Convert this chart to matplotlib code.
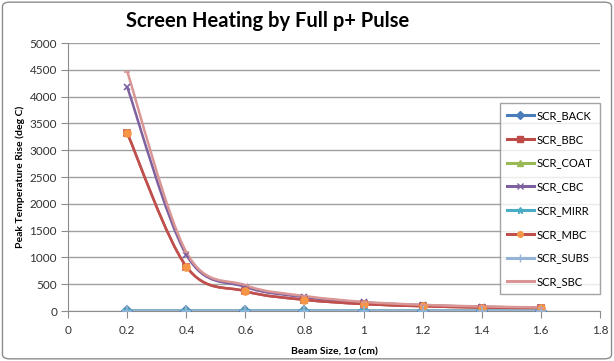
import numpy as np
import matplotlib
matplotlib.use("Agg")
import matplotlib.pyplot as plt
from matplotlib.path import Path
from matplotlib.patches import PathPatch, FancyBboxPatch
from matplotlib.lines import Line2D

beam_size = [0.2, 0.4, 0.6, 0.8, 1.0, 1.2, 1.4, 1.6]
scr_back = [5, 5, 5, 5, 5, 5, 5, 5]
scr_bbc = [3320, 830, 370, 210, 130, 90, 65, 50]
scr_coat = [5, 5, 5, 5, 5, 5, 5, 5]
scr_cbc = [4180, 1050, 450, 260, 160, 110, 80, 60]
scr_mirr = [5, 5, 5, 5, 5, 5, 5, 5]
scr_mbc = [3320, 830, 370, 210, 130, 90, 65, 50]
scr_subs = [5, 5, 5, 5, 5, 5, 5, 5]
scr_sbc = [4470, 1100, 480, 280, 170, 115, 85, 65]

names = ["SCR_BACK", "SCR_BBC", "SCR_COAT", "SCR_CBC", "SCR_MIRR", "SCR_MBC", "SCR_SUBS", "SCR_SBC"]
series = [scr_back, scr_bbc, scr_coat, scr_cbc, scr_mirr, scr_mbc, scr_subs, scr_sbc]
line_colors = ["#4A7EBB", "#BE4B48", "#98B954", "#7D60A0", "#4BACC6", "#C0504D", "#95B3D7", "#D99694"]
marker_colors = ["#4A7EBB", "#BE4B48", "#98B954", "#7D60A0", "#4BACC6", "#F79646", "#95B3D7", "#D99694"]
markers = ["D", "s", "^", "x", "*", "o", "+", "_"]
msizes = [5, 5, 6, 5, 6, 5, 7, 5]

plt.rcParams['font.family'] = ['Lato', 'DejaVu Sans']

fig = plt.figure(figsize=(6.14, 3.61), dpi=100)
ax = fig.add_axes([0.111, 0.1385, 0.866, 0.742])

def smooth_path(xs, ys):
    # Excel-like smoothing: cubic Bezier segments with Catmull-Rom control points
    xs = np.asarray(xs, float); ys = np.asarray(ys, float)
    verts = [(xs[0], ys[0])]
    codes = [Path.MOVETO]
    n = len(xs)
    for i in range(n - 1):
        p0 = np.array([xs[max(i - 1, 0)], ys[max(i - 1, 0)]])
        p1 = np.array([xs[i], ys[i]])
        p2 = np.array([xs[i + 1], ys[i + 1]])
        p3 = np.array([xs[min(i + 2, n - 1)], ys[min(i + 2, n - 1)]])
        c1 = p1 + (p2 - p0) / 6.0
        c2 = p2 - (p3 - p1) / 6.0
        verts += [tuple(c1), tuple(c2), tuple(p2)]
        codes += [Path.CURVE4] * 3
    return Path(verts, codes)

for vals, name, lc, mc, mk, ms in zip(series, names, line_colors, marker_colors, markers, msizes):
    p = smooth_path(beam_size, vals)
    ax.add_patch(PathPatch(p, facecolor="none", edgecolor=lc, lw=1.8, zorder=3))
    ax.plot(beam_size, vals, linestyle="none", marker=mk, color=mc, markersize=ms,
            markeredgecolor=mc, markeredgewidth=1.2, zorder=4)

ax.set_xlim(0, 1.8)
ax.set_ylim(0, 5000)
ax.set_xticks(np.arange(0, 1.81, 0.2))
ax.set_xticklabels(["0", "0.2", "0.4", "0.6", "0.8", "1", "1.2", "1.4", "1.6", "1.8"])
ax.set_yticks(np.arange(0, 5001, 500))
ax.yaxis.grid(True, color="#A0A0A0", lw=1.0)
ax.set_axisbelow(True)
for s in ["top", "right"]:
    ax.spines[s].set_visible(False)
for s in ["left", "bottom"]:
    ax.spines[s].set_color("#8C8C8C")
ax.tick_params(axis="both", colors="#8C8C8C", labelcolor="#333333", labelsize=8.5, length=5,
               direction="out")
ax.tick_params(axis="x", pad=5)
ax.tick_params(axis="y", pad=3)

ax.set_xlabel("Beam Size, 1σ (cm)", fontsize=7.5, fontweight="bold", labelpad=8)
ax.set_ylabel("Peak Temperature Rise (deg C)", fontsize=7.5, fontweight="bold", labelpad=3)
fig.text(268 / 614, 0.942, "Screen Heating by Full p+ Pulse", ha="center", va="center",
         fontsize=14.5, fontweight="bold")

handles = [Line2D([0], [0], color=lc, lw=2.2, marker=mk, markersize=ms - 1, markerfacecolor=mc,
                  markeredgecolor=mc) for lc, mc, mk, ms in zip(line_colors, marker_colors, markers, msizes)]
leg = fig.legend(handles, names, loc="upper left", bbox_to_anchor=(500 / 614, 1 - 103 / 361),
                 fontsize=8, frameon=True, fancybox=False, edgecolor="#8C8C8C", handlelength=2.4,
                 labelspacing=1.15, borderpad=0.62, handletextpad=0.3, borderaxespad=0)
leg.get_frame().set_linewidth(1.0)

border = FancyBboxPatch((0.004, 0.006), 0.992, 0.988, boxstyle="round,pad=0,rounding_size=0.012",
                        transform=fig.transFigure, facecolor="none", edgecolor="#8C8C8C", lw=1.0)
fig.patches.append(border)

fig.savefig("out.png", dpi=100)
